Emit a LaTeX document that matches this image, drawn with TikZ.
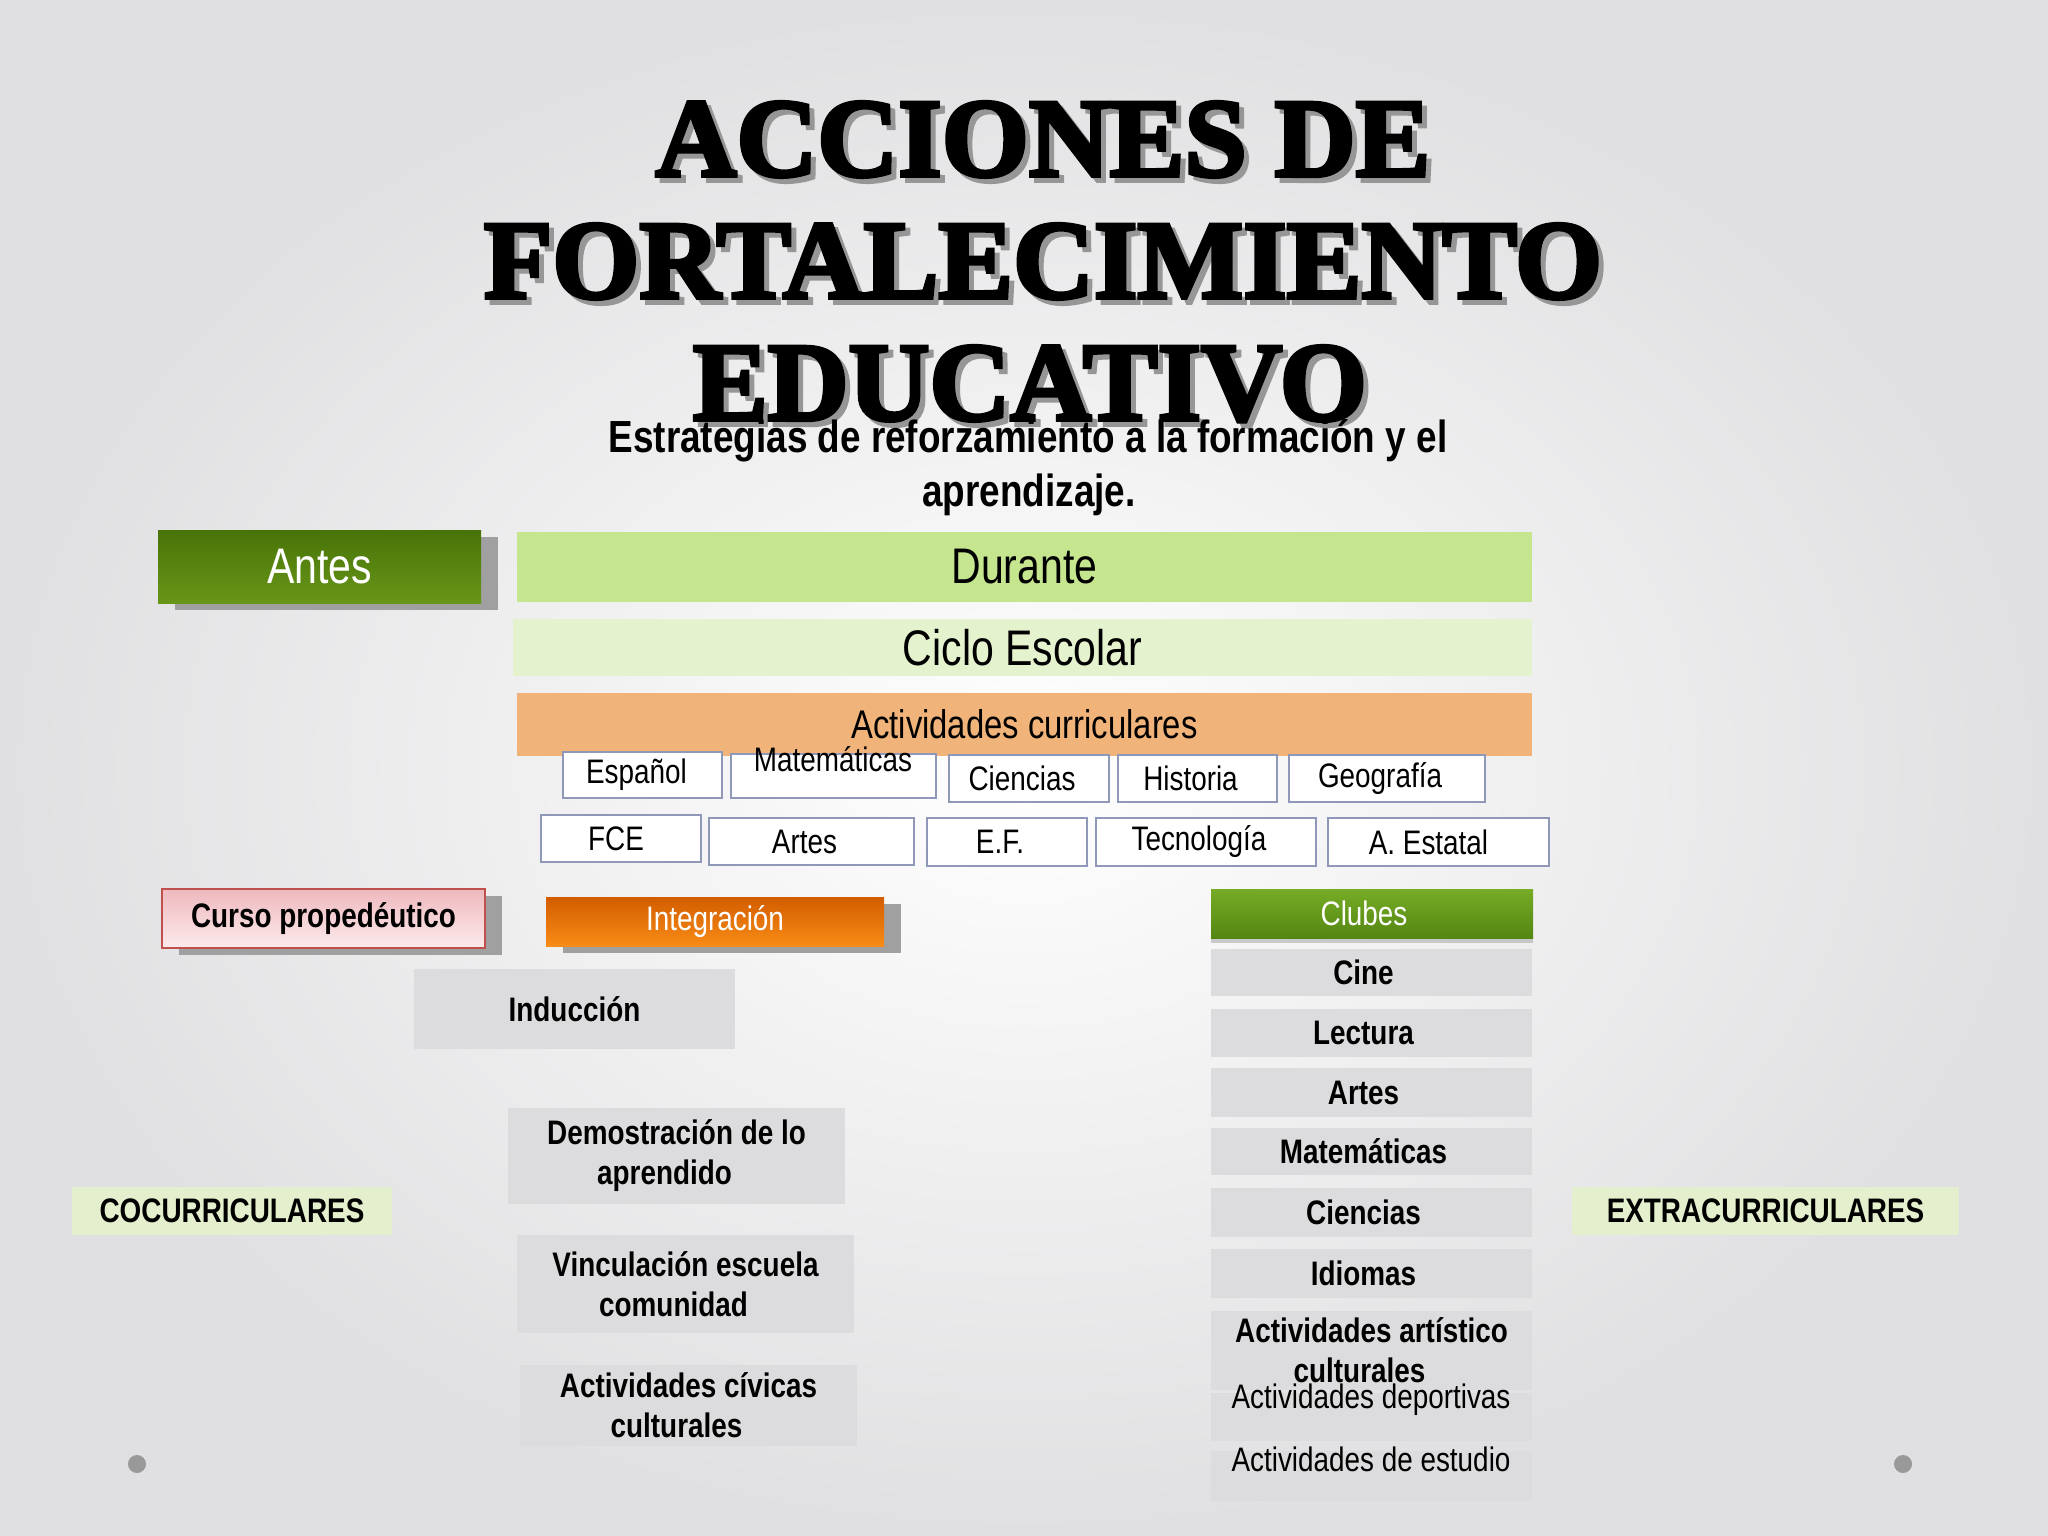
\documentclass[tikz,border=0pt]{standalone}
\usepackage{fontspec}
\setmainfont[FakeStretch=0.82]{Liberation Sans}
\newfontfamily\titlefont[BoldFeatures={FakeBold=3.5}]{Liberation Serif}
\usetikzlibrary{shadows}

\definecolor{fondo}{RGB}{224,224,226}
\definecolor{sombratit}{RGB}{150,150,150}
\definecolor{sombra}{RGB}{160,160,160}
\definecolor{verdeosc}{RGB}{72,115,8}
\definecolor{verdemed}{RGB}{104,150,24}
\definecolor{verdeclaro}{RGB}{197,229,143}
\definecolor{verdepal}{RGB}{228,242,206}
\definecolor{verdecoc}{RGB}{228,240,205}
\definecolor{naranjapal}{RGB}{240,180,122}
\definecolor{naranjaosc}{RGB}{210,92,0}
\definecolor{naranjacla}{RGB}{248,140,22}
\definecolor{rosaosc}{RGB}{238,185,190}
\definecolor{rosacla}{RGB}{252,234,236}
\definecolor{rojoborde}{RGB}{192,80,77}
\definecolor{bordemat}{RGB}{143,152,184}
\definecolor{griscaja}{RGB}{220,220,222}
\definecolor{clubtop}{RGB}{118,172,38}
\definecolor{clubbot}{RGB}{84,134,18}

\tikzset{
  titulo/.style={anchor=base, inner sep=0pt, font=\titlefont\fontsize{112}{122}\selectfont\bfseries},
  subtit/.style={anchor=base, inner sep=0pt, font=\fontsize{45}{54}\selectfont\bfseries},
  sombreado/.style={drop shadow={shadow xshift=17pt, shadow yshift=-7pt, opacity=1, fill=sombra}},
  materia/.style={draw=bordemat, line width=1.5pt, fill=white, inner sep=0pt, font=\fontsize{34}{40}\selectfont},
  grisbox/.style={fill=griscaja, inner sep=0pt, align=center, font=\fontsize{34}{40}\selectfont\bfseries},
  etiqueta/.style={fill=verdecoc, inner sep=0pt, font=\fontsize{34}{40}\selectfont\bfseries}
}

\begin{document}
\begin{tikzpicture}[x=1pt,y=-1pt]
\useasboundingbox (0,0) rectangle (2048,1536);
\shade[inner color=white, outer color=fondo] (0,0) rectangle (2048,1536);

% titulo
\foreach \x/\y/\t [count=\i] in {1043/176/ACCIONES DE, 1043/298/FORTALECIMIENTO, 1030/420/EDUCATIVO}
{
\node[titulo, text=sombratit] (titS\i) at (\x+5,\y+5) {\t};
\node[titulo] (tit\i) at (\x,\y) {\t};
}
\node[subtit] (sub1) at (1028,452) {Estrategias de reforzamiento a la formación y el};
\node[subtit] (sub2) at (1029,506) {aprendizaje.};

% antes / durante
\node[sombreado, top color=verdeosc, bottom color=verdemed, text=white, minimum width=323pt, minimum height=73pt, font=\fontsize{50}{60}\selectfont] (antes) at (319.5,566.5) {Antes};
\node[fill=verdeclaro, minimum width=1015pt, minimum height=70pt, font=\fontsize{50}{60}\selectfont] (durante) at (1024.5,567) {Durante};
\node[fill=verdepal, minimum width=1019pt, minimum height=57pt, font=\fontsize{50}{60}\selectfont] (ciclo) at (1022.5,647.5) {Ciclo Escolar};
\node[fill=naranjapal, minimum width=1015pt, minimum height=63pt, font=\fontsize{40}{48}\selectfont] (curric) at (1024.5,724) {Actividades curriculares};

% materias
\node[materia, minimum width=159pt, minimum height=46pt] (esp) at (642.5,775) {\hspace*{-12pt}Español};
\node[materia, minimum width=205pt, minimum height=44pt] (mat) at (833.5,776) {};
\node[inner sep=0pt, font=\fontsize{34}{40}\selectfont] (matT) at (833,759) {Matemáticas};
\node[materia, minimum width=160pt, minimum height=47pt] (cie) at (1029,778.5) {\hspace*{-14pt}Ciencias};
\node[materia, minimum width=159pt, minimum height=47pt] (his) at (1197.5,778.5) {\hspace*{-14pt}Historia};
\node[materia, minimum width=196pt, minimum height=47pt] (geo) at (1387,778.5) {\hspace*{-14pt}Geografía};
\node[materia, minimum width=160pt, minimum height=47pt] (fce) at (621,838.5) {\hspace*{-10pt}FCE};
\node[materia, minimum width=205pt, minimum height=47pt] (art) at (811.5,841.5) {\hspace*{-14pt}Artes};
\node[materia, minimum width=160pt, minimum height=48pt] (ef) at (1007,842) {\hspace*{-14pt}E.F.};
\node[materia, minimum width=220pt, minimum height=48pt] (tec) at (1206,842) {\hspace*{-14pt}Tecnología};
\node[materia, minimum width=221pt, minimum height=48pt] (est) at (1438.5,842) {\hspace*{-20pt}A. Estatal};

% cocurriculares
\node[sombreado, draw=rojoborde, line width=1.5pt, top color=rosaosc, bottom color=rosacla, minimum width=323pt, minimum height=59pt, font=\fontsize{34}{40}\selectfont\bfseries] (curso) at (323.5,918.5) {Curso propedéutico};
\node[sombreado, top color=naranjaosc, bottom color=naranjacla, text=white, minimum width=338pt, minimum height=49pt, font=\fontsize{34}{40}\selectfont] (integ) at (715,921.5) {Integración};
\node[grisbox, minimum width=321pt, minimum height=80pt] (induc) at (574.5,1009) {Inducción};
\node[grisbox, minimum width=337pt, minimum height=96pt] (demo) at (676.5,1156) {Demostración de lo\\aprendido\hspace*{24pt}};
\node[grisbox, minimum width=337pt, minimum height=98pt] (vinc) at (685.5,1284) {Vinculación escuela\\comunidad\hspace*{24pt}};
\node[grisbox, minimum width=337pt, minimum height=81pt] (civ) at (688.5,1405.5) {Actividades cívicas\\culturales\hspace*{24pt}};
\node[etiqueta, minimum width=320pt, minimum height=48pt] (cocu) at (232,1211) {COCURRICULARES};

% extracurriculares
\node[etiqueta, minimum width=387pt, minimum height=48pt] (extra) at (1765.5,1211) {EXTRACURRICULARES};
\node[drop shadow={shadow xshift=0pt, shadow yshift=-5pt, opacity=0.5, fill=sombra}, top color=clubtop, bottom color=clubbot, text=white, minimum width=322pt, minimum height=49pt, font=\fontsize{34}{40}\selectfont] (clubes) at (1372,913.5) {\hspace*{-16pt}Clubes};
\foreach \y/\h/\t [count=\i] in {972.5/47/Cine, 1033/48/Lectura, 1092.5/49/Artes, 1151.5/47/Matemáticas, 1212.5/49/Ciencias, 1273.5/49/Idiomas}
{
\node[grisbox, minimum width=321pt, minimum height=\h pt] (club\i) at (1371.5,\y) {\hspace*{-16pt}\t};
}
\node[grisbox, minimum width=321pt, minimum height=79pt] (club7) at (1371.5,1350) {Actividades artístico\\culturales\hspace*{24pt}};
\node[grisbox, minimum width=321pt, minimum height=48pt] (club8) at (1371.5,1417) {};
\node[inner sep=0pt, font=\fontsize{34}{40}\selectfont] (club8T) at (1371,1400) {Actividades deportivas};
\node[grisbox, minimum width=321pt, minimum height=50pt] (club9) at (1371.5,1476) {};
\node[inner sep=0pt, font=\fontsize{34}{40}\selectfont] (club9T) at (1371,1459) {Actividades de estudio};

% puntos
\node[circle, fill=gray!80, inner sep=0pt, minimum size=18pt] (puntoI) at (137,1464) {};
\node[circle, fill=gray!80, inner sep=0pt, minimum size=18pt] (puntoD) at (1903,1464) {};

\end{tikzpicture}
\end{document}
